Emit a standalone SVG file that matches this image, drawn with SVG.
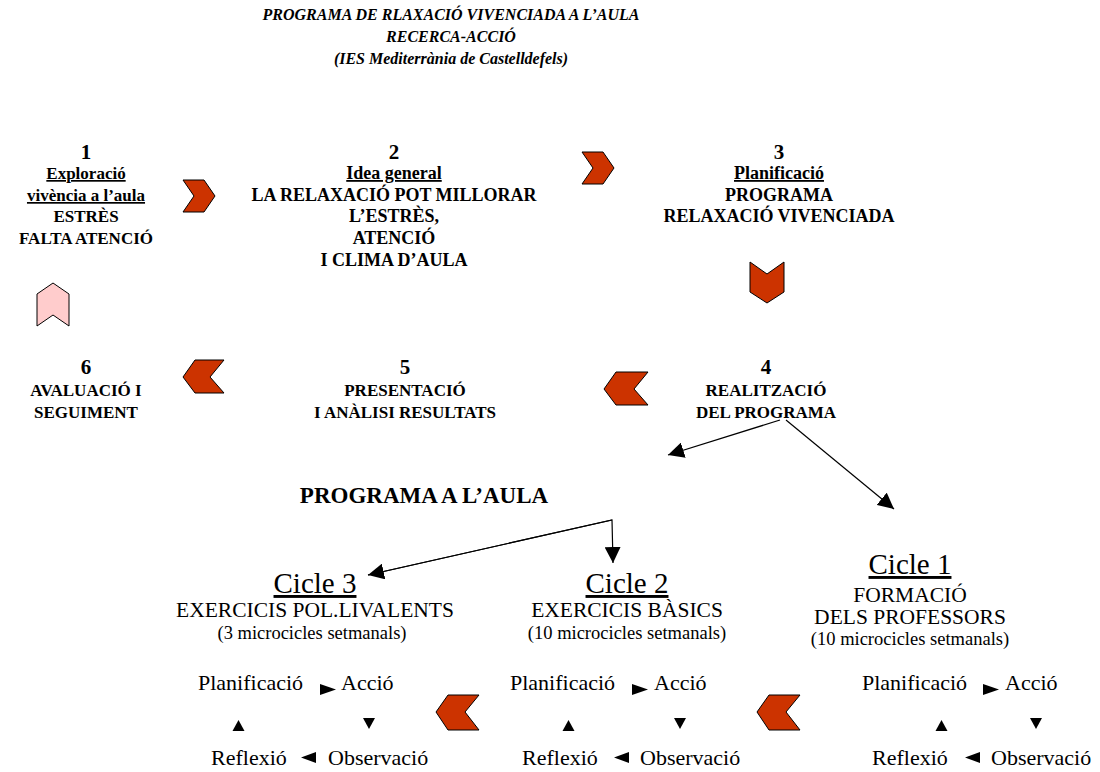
<svg xmlns="http://www.w3.org/2000/svg" width="1100" height="772" viewBox="0 0 1100 772">
<style>
  .t{font-family:"Liberation Serif","Times New Roman",serif;fill:#000;text-anchor:middle}
  .title{font-size:16px;font-weight:bold;font-style:italic}
  .num{font-size:21px;font-weight:bold}
  .b{font-size:18px;font-weight:bold}
  .bs{font-size:17px;font-weight:bold}
  .u{text-decoration:underline}
  .big{font-size:23px;font-weight:bold}
  .cyc{font-size:29px}
  .r{font-size:21.5px}
  .s{font-size:18.5px}
  .st{font-family:"Liberation Serif","Times New Roman",serif;font-size:22px;fill:#000}
  .chev{fill:#CC3300;stroke:#000;stroke-width:1}
  .chevp{fill:#FFCCCC;stroke:#000;stroke-width:1}
  .ln{stroke:#000;stroke-width:1.2;fill:none}
  .tri{fill:#000}
</style>
<defs>
  <marker id="ah" viewBox="0 0 10 10" refX="10" refY="5" markerWidth="16" markerHeight="16" markerUnits="userSpaceOnUse" orient="auto">
    <path d="M0,0 L10,5 L0,10 z" fill="#000"/>
  </marker>
</defs>
<rect width="1100" height="772" fill="#fff"/>

<!-- heading -->
<g id="title" class="t title">
  <text x="451" y="20">PROGRAMA DE RLAXACIÓ VIVENCIADA A L’AULA</text>
  <text x="451" y="42">RECERCA-ACCIÓ</text>
  <text x="451" y="64">(IES Mediterrània de Castelldefels)</text>
</g>

<!-- stage 1 -->
<g id="node1" class="t">
  <text x="86" y="159" class="num">1</text>
  <text x="86" y="179" class="bs u">Exploració</text>
  <text x="86" y="201" class="bs u">vivència a l’aula</text>
  <text x="86" y="222" class="bs">ESTRÈS</text>
  <text x="86" y="244" class="bs">FALTA ATENCIÓ</text>
</g>

<!-- stage 2 -->
<g id="node2" class="t">
  <text x="394" y="159" class="num">2</text>
  <text x="394" y="179" class="b u">Idea general</text>
  <text x="394" y="201" class="b">LA RELAXACIÓ POT MILLORAR</text>
  <text x="394" y="222" class="b">L’ESTRÈS,</text>
  <text x="394" y="244" class="b">ATENCIÓ</text>
  <text x="394" y="266" class="b">I CLIMA D’AULA</text>
</g>

<!-- stage 3 -->
<g id="node3" class="t">
  <text x="779" y="159" class="num">3</text>
  <text x="779" y="179" class="b u">Planificació</text>
  <text x="779" y="201" class="b">PROGRAMA</text>
  <text x="779" y="222" class="b">RELAXACIÓ VIVENCIADA</text>
</g>

<!-- stage 4 -->
<g id="node4" class="t">
  <text x="766" y="374" class="num">4</text>
  <text x="766" y="396" class="bs">REALITZACIÓ</text>
  <text x="766" y="418" class="bs">DEL PROGRAMA</text>
</g>

<!-- stage 5 -->
<g id="node5" class="t">
  <text x="405" y="374" class="num">5</text>
  <text x="405" y="396" class="bs">PRESENTACIÓ</text>
  <text x="405" y="418" class="bs">I ANÀLISI RESULTATS</text>
</g>

<!-- stage 6 -->
<g id="node6" class="t">
  <text x="86" y="374" class="num">6</text>
  <text x="86" y="396" class="bs">AVALUACIÓ I</text>
  <text x="86" y="418" class="bs">SEGUIMENT</text>
</g>

<!-- classroom programme -->
<g id="aula" class="t">
  <text x="424" y="503" class="big">PROGRAMA A L’AULA</text>
</g>

<g id="cicle1" class="t">
  <text x="910" y="574" class="cyc u">Cicle 1</text>
  <text x="910" y="602" class="r">FORMACIÓ</text>
  <text x="910" y="624" class="r">DELS PROFESSORS</text>
  <text x="910" y="645" class="s">(10 microcicles setmanals)</text>
</g>

<g id="cicle2" class="t">
  <text x="627" y="593" class="cyc u">Cicle 2</text>
  <text x="627" y="617" class="r">EXERCICIS BÀSICS</text>
  <text x="627" y="639" class="s">(10 microcicles setmanals)</text>
</g>

<g id="cicle3" class="t">
  <text x="315" y="593" class="cyc u">Cicle 3</text>
  <text x="315" y="617" class="r">EXERCICIS POL.LIVALENTS</text>
  <text x="312" y="639" class="s">(3 microcicles setmanals)</text>
</g>

<!-- action-research loops -->
<g id="loop3">
  <text class="st" x="198" y="690">Planificació</text>
  <polygon class="tri" points="320,684 336,689.5 320,695"/>
  <text class="st" x="341" y="690">Acció</text>
  <polygon class="tri" points="238.5,720 244.5,731 232.5,731"/>
  <polygon class="tri" points="363,718 375,718 369,729"/>
  <text class="st" x="211" y="765">Reflexió</text>
  <polygon class="tri" points="301,757.5 316,752 316,763"/>
  <text class="st" x="328" y="765">Observació</text>
</g>

<g id="loop2">
  <text class="st" x="510" y="690">Planificació</text>
  <polygon class="tri" points="632,684 648,689.5 632,695"/>
  <text class="st" x="654" y="690">Acció</text>
  <polygon class="tri" points="568.5,720 574.5,731 562.5,731"/>
  <polygon class="tri" points="674,718 686,718 680,729"/>
  <text class="st" x="522" y="765">Reflexió</text>
  <polygon class="tri" points="614,757.5 629,752 629,763"/>
  <text class="st" x="640" y="765">Observació</text>
</g>

<g id="loop1">
  <text class="st" x="862" y="690">Planificació</text>
  <polygon class="tri" points="983,684 999,689.5 983,695"/>
  <text class="st" x="1005" y="690">Acció</text>
  <polygon class="tri" points="941.5,720 947.5,731 935.5,731"/>
  <polygon class="tri" points="1030,718 1042,718 1036,729"/>
  <text class="st" x="872" y="765">Reflexió</text>
  <polygon class="tri" points="965,757.5 980,752 980,763"/>
  <text class="st" x="991" y="765">Observació</text>
</g>

<!-- block chevrons between stages -->
<g id="chevrons">
  <polygon class="chev" points="183,180 204,180 215,196 204,212 183,212 194,196"/>
  <polygon class="chev" points="582,152 603,152 614,168 603,184 582,184 593,168"/>
  <polygon class="chev" points="750,262 767,274 784,262 784,292 767,303 750,292"/>
  <polygon class="chev" points="604,389 616,372 648,372 634,389 648,405 616,405"/>
  <polygon class="chev" points="183,377 195,360 224,360 210,377 224,393 195,393"/>
  <polygon class="chevp" points="53,283 69,294 69,326 53,315 37,326 37,294"/>
  <polygon class="chev" points="436,712 448,695 479,695 465,712 479,730 448,730"/>
  <polygon class="chev" points="757,712 769,695 800,695 786,712 800,730 769,730"/>
</g>

<!-- connectors -->
<g id="connectors" class="ln">
  <line x1="780" y1="420" x2="668" y2="455" marker-end="url(#ah)"/>
  <line x1="786" y1="420" x2="894" y2="509" marker-end="url(#ah)"/>
  <polyline points="368,575 612,520 613,563" marker-end="url(#ah)"/>
  <line x1="612" y1="520" x2="368" y2="575" marker-end="url(#ah)"/>
</g>
</svg>
